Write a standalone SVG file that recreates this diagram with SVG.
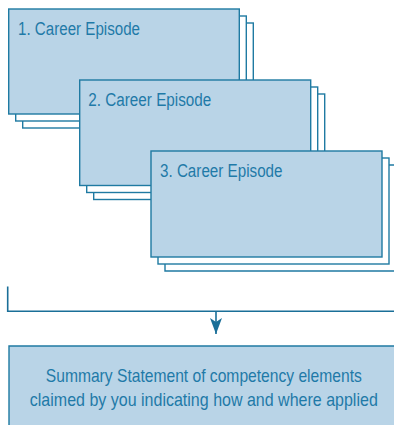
<svg xmlns="http://www.w3.org/2000/svg" width="394" height="425" viewBox="0 0 394 425">
  <defs>
    <style>
      .main { fill: #b9d4e7; stroke: #1f7aa2; stroke-width: 1.4; }
      .shadow { fill: #ffffff; stroke: #1f7aa2; stroke-width: 1.4; }
      .edge { fill: none; stroke: #1f7aa2; stroke-width: 1.4; }
      .title { font-family: "Liberation Sans", Arial, sans-serif; font-size: 19px; fill: #1f7aa8; }
      .body { font-family: "Liberation Sans", Arial, sans-serif; font-size: 18px; fill: #1f7aa8; }
      .conn { fill: none; stroke: #1a6f98; stroke-width: 1.6; }
    </style>
    <marker id="arrow" viewBox="0 0 16 12" refX="16" refY="6" markerWidth="16" markerHeight="12" markerUnits="userSpaceOnUse" orient="auto">
      <path d="M0,0 L4,6 L0,12 L16,6 Z" fill="#1a6f98"/>
    </marker>
  </defs>

  <g id="episode1">
    <rect class="shadow" x="22.7" y="23" width="230.6" height="105"/>
    <rect class="shadow" x="15.7" y="16" width="230.6" height="105"/>
    <rect class="main" x="8.7" y="9" width="230.6" height="105"/>
    <text class="title" transform="translate(18,34.5) scale(0.85,1)" textLength="143.5" lengthAdjust="spacingAndGlyphs">1. Career Episode</text>
  </g>

  <g id="episode2">
    <rect class="shadow" x="93.7" y="94" width="231" height="105.5"/>
    <rect class="shadow" x="86.7" y="87" width="231" height="105.5"/>
    <rect class="main" x="79.7" y="80" width="231" height="105.5"/>
    <text class="title" transform="translate(88.3,105.5) scale(0.85,1)" textLength="144.7" lengthAdjust="spacingAndGlyphs">2. Career Episode</text>
  </g>

  <g id="episode3">
    <path class="shadow" d="M394,165 L165,165 L165,271 L394,271"/>
    <rect class="shadow" x="158" y="158" width="231" height="106"/>
    <rect class="main" x="151" y="151" width="231" height="106"/>
    <text class="title" transform="translate(160,176.5) scale(0.85,1)" textLength="144.1" lengthAdjust="spacingAndGlyphs">3. Career Episode</text>
  </g>

  <g id="connectors">
    <polyline class="conn" points="7.7,286.5 7.7,311.3 394,311.3"/>
    <line class="conn" x1="216" y1="311.3" x2="216" y2="334" marker-end="url(#arrow)"/>
  </g>

  <g id="summary">
    <rect x="9" y="346" width="385" height="79" fill="#b9d4e7"/>
    <path class="edge" d="M9,425 L9,346 L394,346"/>
    <text class="body" transform="translate(203.8,381.7) scale(0.85,1)" text-anchor="middle" textLength="371.8" lengthAdjust="spacingAndGlyphs">Summary Statement of competency elements</text>
    <text class="body" transform="translate(203.8,406) scale(0.85,1)" text-anchor="middle" textLength="409.4" lengthAdjust="spacingAndGlyphs">claimed by you indicating how and where applied</text>
  </g>
</svg>
